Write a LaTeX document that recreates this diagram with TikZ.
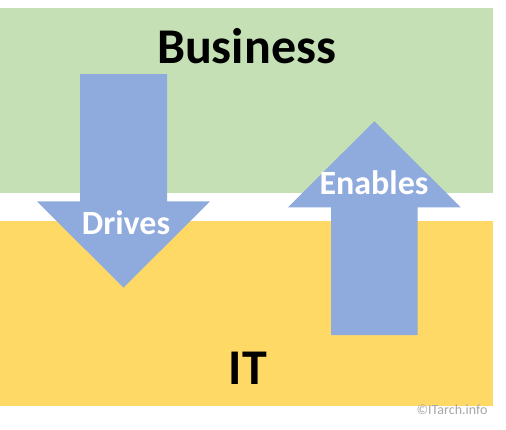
\documentclass[tikz,border=0pt]{standalone}
\usepackage{fontspec}
\setmainfont{Carlito}
\usetikzlibrary{positioning}
\definecolor{BizGreen}{RGB}{197, 224, 180}
\definecolor{ITYellow}{RGB}{255, 217, 102}
\definecolor{ArrowBlue}{RGB}{143, 170, 220}
\definecolor{NoteGray}{RGB}{166, 166, 166}

\begin{document}
\begin{tikzpicture}[
    x=1pt, y=-1pt,
    % --- Styles ---
    % Style for the two coloured bands
    band-style/.style={draw=none},
    % Style for the big block arrows
    block-arrow/.style={fill=ArrowBlue, draw=none},
    % Style for the band titles
    band-label/.style={
        font=\fontsize{50}{50}\selectfont\bfseries,
        anchor=base, inner sep=0pt
    },
    % Style for the words on the arrows
    arrow-label/.style={
        font=\fontsize{34}{34}\selectfont\bfseries,
        text=white, anchor=base, inner sep=0pt
    }
]
\useasboundingbox (0,0) rectangle (506,429);

% --- Bands ---
\fill[band-style, BizGreen] (0,8) rectangle (492.7,192.7);
\fill[band-style, ITYellow] (0,221) rectangle (492.7,405.7);

% --- Arrow 1: Drives (down) ---
\fill[block-arrow] (80,74) -- (167,74) -- (167,201.3) -- (210,201.3)
    -- (123.5,287.7) -- (37,201.3) -- (80,201.3) -- cycle;

% --- Arrow 2: Enables (up) ---
\fill[block-arrow] (331,335) -- (417.7,335) -- (417.7,207.3) -- (460.7,207.3)
    -- (374.3,121.3) -- (288,207.3) -- (331,207.3) -- cycle;

% --- Labels ---
\node[band-label] (biz-label) at (246.5,63.3) {Business};
\node[band-label] (it-label) at (248,384.3) {IT};
\node[arrow-label] (drives-label) at (126,234.3) {Drives};
\node[arrow-label] (enables-label) at (374,194.3) {Enables};
\node[anchor=base, inner sep=0pt, text=NoteGray,
    font=\fontsize{14}{14}\selectfont] (credit) at (452,414) {©ITarch.info};

\end{tikzpicture}
\end{document}
